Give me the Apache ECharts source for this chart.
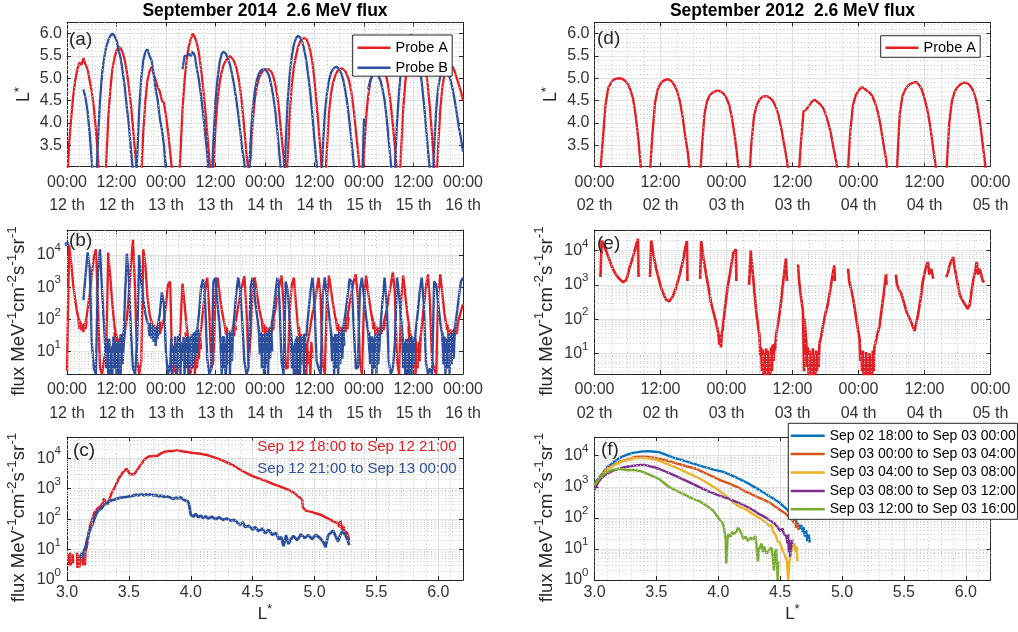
<!DOCTYPE html>
<html>
<head>
<meta charset="utf-8">
<title>2.6 MeV flux</title>
<script src="https://cdn.jsdelivr.net/npm/echarts@6.0.0/dist/echarts.min.js"></script>
<style>
  html, body { margin: 0; padding: 0; background: #ffffff; }
  #chart { width: 1018px; height: 632px; }
</style>
</head>
<body>
<div id="chart"></div>
<script>
// ---------------- data ----------------
// Hourly series are sampled every half hour from the first day's 00:00.
const HOUR_STEP = 0.5;
// Noise windows are sampled every quarter hour from their own start.
const NOISE_STEP = 0.25;

// September 2014 (12th 00:00 to 16th 00:00): L* of Probe A and Probe B
const lstarA2014 = [
  2.6, 3.5, 4.1, 4.6, 4.95, 5.2, 5.35, 5.3, 5.45, 5.3, 5.2, 4.95, 4.7, 4.35, 3.85, 3.25, 2.5,
  2.2, 2.4, 3.1, 4.1, 4.75, 5.2, 5.45, 5.62, 5.7, 5.68, 5.58, 5.4, 5.15, 4.8, 4.4, 3.9, 3.35, 2.9, 2.2,
  2.8, 3.8, 4.5, 4.95, 5.15, 5.25, 5.1, 4.95, 4.8, 4.7, 4.5, 4.45, 4.15, 3.8, 3.35, 2.9, 2.2, 2.0, 2.5,
  3.3, 4.3, 4.95, 5.4, 5.7, 5.88, 6.0, 5.92, 5.78, 5.55, 5.2, 4.8, 4.3, 3.75, 3.2, 2.6,
  3.0, 3.9, 4.5, 4.9, 5.15, 5.3, 5.4, 5.45, 5.5, 5.45, 5.38, 5.25, 5.05, 4.75, 4.35, 3.85, 3.3, 2.9,
  3.2, 4.0, 4.5, 4.8, 5.0, 5.1, 5.17, 5.2, 5.2, 5.2, 5.15, 5.05, 4.85, 4.6, 4.2, 3.7, 3.25, 2.6,
  3.2, 4.2, 4.85, 5.25, 5.5, 5.7, 5.82, 5.88, 5.9, 5.88, 5.78, 5.6, 5.35, 4.95, 4.45, 3.9, 3.3, 2.6, 2.5,
  3.4, 4.2, 4.65, 4.9, 5.05, 5.15, 5.2, 5.22, 5.2, 5.15, 5.05, 4.9, 4.65, 4.3, 3.85, 3.4, 2.9, 2.3,
  3.3, 4.1, 4.6, 4.9, 5.1, 5.2, 5.28, 5.3, 5.3, 5.25, 5.15, 5.0, 4.75, 4.4, 3.95, 3.45, 2.9, 2.3,
  3.4, 4.3, 4.9, 5.3, 5.55, 5.72, 5.83, 5.88, 5.9, 5.85, 5.72, 5.5, 5.2, 4.8, 4.3, 3.7, 3.1, 2.5,
  3.5, 4.3, 4.8, 5.1, 5.25, 5.3, 5.3, 5.25, 5.15, 5.0, 4.85, 4.7, 4.5
];
const lstarB2014 = [
  null, null, null, null, null, null, null, null,
  4.75, 4.55, 4.25, 3.75, 3.15, 2.5,
  2.4, 3.6, 4.5, 5.1, 5.45, 5.7, 5.85, 5.95, 6.0, 5.95, 5.85, 5.65, 5.45, 5.15, 4.8, 4.35, 3.95, 3.4, 2.9, 2.3,
  3.2, 4.3, 5.0, 5.4, 5.6, 5.65, 5.5, 5.4, 5.1, 4.75, 4.5, 4.1, 3.85, 3.5, 2.9, 2.3,
  null, null, null, null, null, null,
  5.2, 5.5, 5.5, 5.55, 5.5, 5.6, 5.5, 5.2, 4.95, 4.6, 4.2, 3.75, 3.3, 2.6,
  2.6, 3.6, 4.5, 5.0, 5.35, 5.55, 5.6, 5.55, 5.45, 5.3, 5.1, 4.85, 4.55, 4.2, 3.8, 3.4, 3.1, 2.4,
  2.6, 3.6, 4.3, 4.7, 4.95, 5.1, 5.18, 5.2, 5.2, 5.15, 5.05, 4.85, 4.6, 4.25, 3.8, 3.3, 2.8, 2.2,
  3.5, 4.5, 5.1, 5.5, 5.75, 5.9, 5.95, 5.92, 5.82, 5.65, 5.4, 5.05, 4.65, 4.15, 3.6, 3.1, 2.5,
  2.3, 3.4, 4.2, 4.65, 4.95, 5.12, 5.2, 5.25, 5.25, 5.2, 5.1, 4.95, 4.7, 4.4, 4.0, 3.55, 3.1, 2.5,
  2.2, 2.3, 2.5, 4.1, null, 4.75, 4.95, 5.05, 5.1, 5.1, 5.05, 4.95, 4.75, 4.5, 4.1, 3.6, 3.1, 2.5,
  3.0, 4.0, 4.7, 5.2, 5.5, 5.75, 5.88, 5.95, 5.97, 5.9, 5.75, 5.55, 5.25, 4.9, 4.45, 3.95, 3.4, 2.9, 2.3,
  3.4, 4.3, 4.8, 5.05, 5.2, 5.25, 5.2, 5.1, 4.95, 4.75, 4.5, 4.2, 3.9, 3.65, 3.35
];

// September 2014: 2.6 MeV flux of Probe A and Probe B
const fluxA2014 = [
  2.5, 20000, 6000, 1200, 400, 150, 90, 70, 60, 75, 200, 600, 2500, 8000, 15000, 300, 3,
  2, 6, 10, 12000, 2000, 300, 60, 30, 15, 25, 12, 40, 100, 600, 5000, 30000, 800, 5, 2,
  5, 15000, 5000, 500, 150, 80, 60, 40, 50, 35, 60, 100, 300, 1200, 1500, 5, 3, 2, 3,
  60, 1300, 300, 60, 20, 8, 3, 12, 4, 20, 50, 200, 900, 2000, 150, 3,
  5, 800, 2000, 600, 200, 90, 50, 35, 30, 40, 60, 100, 250, 600, 1200, 2200, 200, 4,
  30, 800, 2000, 700, 250, 120, 70, 50, 45, 50, 60, 100, 200, 500, 1200, 2300, 300, 3,
  3, 200, 1200, 2000, 300, 60, 15, 20, 3, 12, 25, 60, 150, 300, 800, 2000, 400, 4, 2,
  400, 2300, 800, 300, 120, 70, 50, 45, 50, 70, 120, 300, 700, 1500, 2500, 500, 5, 2,
  300, 2300, 700, 250, 100, 60, 45, 40, 45, 60, 100, 200, 500, 1200, 3000, 600, 5, 2,
  400, 2300, 600, 150, 50, 20, 8, 25, 4, 15, 60, 250, 1000, 2500, 300, 5, 3, 2,
  600, 2500, 600, 150, 60, 40, 35, 40, 50, 70, 100, 180, 300
];
const fluxB2014 = [
  null, null, null, null, null, null, null, null,
  400, 2500, 12000, 4000, 20, 3,
  2, 3000, 15000, 800, 60, 4, 25, 2, 15, 3, 20, 2, 30, 5, 300, 11000, 2000, 40, 3, 2,
  20, 10000, 1500, 400, 150, 80, 60, 40, 50, 30, 60, 150, 700, 300, 8, 2,
  4, 2, 10, 3, 30, 5,
  20, 3, 25, 2, 30, 4, 20, 40, 150, 1000, 1800, 300, 6, 2,
  3, 1500, 2000, 300, 60, 5, 30, 2, 40, 4, 35, 100, 600, 2000, 800, 80, 5, 2,
  3, 1000, 2000, 500, 150, 50, 8, 35, 3, 40, 6, 50, 150, 600, 2000, 400, 5, 2,
  1500, 800, 100, 20, 3, 25, 2, 30, 4, 35, 30, 150, 700, 2000, 300, 5, 3,
  2, 600, 2000, 500, 150, 40, 5, 35, 3, 40, 8, 60, 150, 500, 1800, 1500, 60, 3,
  3, 800, 2000, 500, 120, 40, 5, 30, 3, 35, 5, 60, 400, 2000, 300, 5, 2, 3,
  20, 2000, 600, 100, 20, 3, 25, 2, 30, 4, 40, 150, 700, 2000, 300, 5, 2, 3, 2,
  1500, 1200, 300, 80, 30, 4, 25, 3, 35, 6, 50, 150, 500, 1500, 2000
];
const fluxB2014First = [[0, 22000]];

// Count-noise scatter in the low-flux stretches, quarter-hour samples
const fluxA2014Noise = [
  { from: 2.75, values: [100, 50, 80, 45, 70, 40, 75, 50, 90] },
  { from: 11.5, values: [40, 12, 30, 8, 25, 10, 35, 6, 20, 15, 45] },
  { from: 20.5, values: [90, 40, 70, 30, 55, 35, 70, 40, 80, 50, 90] },
  { from: 28.75, values: [40, 10, 25, 4, 15, 2, 10, 3, 20, 2, 8, 3, 15, 6, 30, 12] },
  { from: 38.25, values: [70, 35, 55, 25, 45, 20, 40, 25, 50, 30, 70, 45] },
  { from: 47.25, values: [90, 40, 70, 30, 60, 25, 50, 30, 55, 35, 70, 45, 100] },
  { from: 56.25, values: [60, 20, 35, 8, 20, 3, 12, 2, 15, 4, 10, 2, 20, 6] },
  { from: 65.25, values: [100, 45, 70, 35, 60, 30, 55, 30, 60, 40, 80, 50, 120] },
  { from: 74.0, values: [120, 50, 80, 35, 60, 30, 55, 28, 50, 35, 70, 45, 100, 60] },
  { from: 82.75, values: [60, 20, 35, 6, 20, 3, 15, 2, 12, 3, 20, 5, 30] },
  { from: 92.25, values: [70, 30, 50, 25, 45, 22, 50, 30, 60, 35, 80] }
];
const fluxB2014Noise = [
  { from: 9.25, values: [30, 3, 20, 2, 25, 4, 12, 2, 30, 3, 18, 2, 22, 5, 15, 2, 35, 4, 40] },
  { from: 19.75, values: [60, 30, 80, 25, 70, 20, 50, 15, 60, 25, 80] },
  { from: 25.0, values: [3, 25, 2, 15, 4, 30, 2, 20, 3, 35, 2, 18, 5, 28, 2, 22, 3, 30, 2, 25, 4, 35, 3, 40, 6, 45, 8, 50] },
  { from: 37.25, values: [15, 2, 30, 3, 20, 2, 35, 4, 25, 2, 40, 5, 45] },
  { from: 46.5, values: [60, 8, 40, 3, 30, 2, 35, 4, 25, 2, 45, 6, 60, 10] },
  { from: 54.25, values: [25, 3, 15, 2, 20, 2, 30, 3, 20, 2, 25, 4, 30, 2, 35] },
  { from: 64.0, values: [45, 5, 30, 2, 25, 3, 35, 2, 30, 4, 40, 6, 50, 15] },
  { from: 73.25, values: [40, 4, 30, 2, 25, 3, 35, 2, 30, 4, 40] },
  { from: 81.25, values: [30, 3, 20, 2, 25, 2, 18, 3, 30, 2, 22, 4, 28] },
  { from: 91.0, values: [40, 4, 30, 2, 25, 3, 35, 2, 30, 4, 40, 6, 50] }
];

// Flux against L*, Sep 12 (Probe A outbound, Probe B inbound)
const profileSep12A = [
  [3.01, 7], [3.015, 3], [3.025, 8], [3.03, 3], [3.045, 7], [3.05, 3.5], [3.06, null],
  [3.08, 8], [3.085, 2.5], [3.095, 7], [3.1, 2.6], [3.11, 6], [3.115, null],
  [3.125, 7], [3.13, 3], [3.14, 8], [3.145, 3], [3.15, 9], [3.16, 12], [3.175, 35], [3.185, 55],
  [3.2, 90], [3.22, 160], [3.245, 220], [3.27, 260], [3.29, 350], [3.3, 480], [3.31, 380],
  [3.325, 300], [3.34, 420], [3.36, 700], [3.39, 1200], [3.42, 2200], [3.45, 3400], [3.48, 4500],
  [3.49, 4200], [3.51, 3000], [3.525, 2700], [3.545, 3000], [3.57, 4300], [3.6, 6500], [3.63, 9500],
  [3.66, 11500], [3.7, 11800], [3.73, 12000], [3.76, 14500], [3.79, 16500], [3.83, 17500],
  [3.86, 17500], [3.89, 18500], [3.93, 17000], [3.97, 16000], [4.02, 15000], [4.08, 14000],
  [4.14, 12500], [4.19, 10700], [4.24, 9000], [4.29, 7400], [4.35, 5700], [4.4, 4200], [4.46, 3100],
  [4.51, 2500], [4.56, 2100], [4.62, 1700], [4.67, 1400], [4.72, 1200], [4.78, 950], [4.83, 760],
  [4.87, 550], [4.9, 450], [4.905, 250], [4.915, 230], [4.93, 190], [4.96, 180], [5.0, 160],
  [5.05, 140], [5.09, 115], [5.13, 95], [5.16, 80], [5.19, 75], [5.2, 55], [5.21, 90], [5.22, 45],
  [5.235, 60], [5.245, 30], [5.26, 40], [5.275, 25], [5.28, 20]
];
const profileSep12B = [
  [3.11, 5], [3.12, 8], [3.13, 6], [3.14, 10], [3.15, 12], [3.16, 20], [3.17, 26], [3.18, 40],
  [3.2, 57], [3.22, 100], [3.24, 160], [3.26, 200], [3.28, 230], [3.3, 290], [3.32, 340], [3.35, 400],
  [3.38, 440], [3.41, 480], [3.44, 510], [3.47, 530], [3.5, 560], [3.53, 580], [3.56, 640], [3.58, 600],
  [3.6, 680], [3.62, 600], [3.64, 650], [3.66, 620], [3.68, 660], [3.7, 600], [3.72, 620], [3.74, 560],
  [3.76, 590], [3.78, 540], [3.8, 570], [3.83, 520], [3.86, 460], [3.88, 510], [3.9, 470], [3.92, 520],
  [3.94, 440], [3.96, 400], [3.98, 380], [3.99, 250], [4.0, 140], [4.02, 120], [4.04, 150], [4.06, 115],
  [4.08, 130], [4.1, 110], [4.12, 125], [4.14, 105], [4.17, 120], [4.2, 100], [4.23, 115], [4.26, 95],
  [4.29, 105], [4.32, 90], [4.35, 95], [4.38, 75], [4.4, 65], [4.42, 80], [4.44, 55], [4.47, 60],
  [4.5, 45], [4.52, 55], [4.55, 40], [4.58, 50], [4.6, 34], [4.63, 45], [4.66, 30], [4.69, 35],
  [4.71, 22], [4.73, 26], [4.75, 13], [4.77, 30], [4.79, 15], [4.81, 22], [4.83, 28], [4.86, 20],
  [4.89, 32], [4.92, 24], [4.95, 30], [4.98, 22], [5.01, 30], [5.04, 25], [5.07, 18], [5.09, 12],
  [5.11, 30], [5.13, 35], [5.15, 42], [5.17, 28], [5.19, 18], [5.21, 32], [5.23, 40], [5.25, 30],
  [5.27, 20], [5.28, 14]
];

// September 2012 (2nd 00:00 to 5th 00:00): L* of Probe A, every half hour
const lstarA2012 = [
  2.0, 2.3, 2.8, 3.6, 4.4, 4.78, 4.9, 4.97, 4.99, 5.0, 4.99, 4.95, 4.88, 4.75, 4.55, 4.15, 3.6, 2.9, 2.2, 2.3,
  2.7, 3.7, 4.45, 4.75, 4.88, 4.94, 4.97, 4.97, 4.93, 4.85, 4.72, 4.5, 4.15, 3.7, 3.3, 2.7, 2.2, 2.1, 2.4,
  3.4, 4.2, 4.5, 4.62, 4.68, 4.71, 4.72, 4.7, 4.65, 4.55, 4.4, 4.1, 3.7, 3.2, 2.6, 2.1, 2.0, 2.5,
  3.5, 4.15, 4.4, 4.52, 4.58, 4.6, 4.59, 4.55, 4.48, 4.35, 4.15, 3.85, 3.5, 3.15, 2.6, 2.1, 2.1, 2.6,
  3.5, 4.25, 4.3, 4.38, 4.47, 4.52, 4.47, 4.42, 4.35, 4.2, 4.0, 3.75, 3.4, 3.1, 2.5, 2.1, 2.2, 2.8,
  3.8, 4.4, 4.62, 4.72, 4.8, 4.78, 4.72, 4.68, 4.6, 4.45, 4.25, 3.95, 3.55, 3.2, 2.6, 2.1, 2.3,
  3.0, 4.2, 4.6, 4.75, 4.83, 4.88, 4.9, 4.92, 4.85, 4.75, 4.55, 4.3, 3.95, 3.5, 3.05, 2.5, 2.1, 2.3,
  2.9, 4.0, 4.5, 4.7, 4.8, 4.86, 4.9, 4.9, 4.87, 4.8, 4.68, 4.45, 4.1, 3.6, 3.1, 2.5, 2.1
];

// September 2012: 2.6 MeV flux of Probe A as [hour, flux]; null marks a data gap
const fluxA2012 = [
  [1.1, 1700], [1.3, 20000], [1.6, 15000], [2.1, 10000], [2.7, 5500], [3.3, 3000], [3.9, 2000],
  [4.5, 1500], [5.2, 1200], [5.8, 1400], [6.4, 3300], [7.0, 6500], [7.3, 10000], [7.6, 15000],
  [7.9, 22000], [8.0, 1700], [8.2, null],
  [10.1, 1700], [10.3, 20000], [10.7, 8000], [11.2, 3000], [12.1, 830], [13.0, 370], [13.6, 330],
  [14.2, 450], [14.8, 800], [15.5, 2000], [16.1, 5200], [16.5, 12000], [16.8, 19000], [16.9, 1300],
  [17.1, null],
  [19.2, 1500], [19.4, 19000], [19.8, 6000], [20.3, 2000], [21.2, 300], [22.1, 80], [22.5, 40],
  [22.7, 18], [22.85, 35], [23.0, 15], [23.15, 40], [23.3, 50], [23.7, 200], [24.2, 830], [24.7, 2500],
  [25.2, 8300], [25.7, 11000], [25.8, 1300], [26.0, null],
  [28.1, 1000], [28.4, 10000], [28.8, 2000], [29.4, 170], [29.7, 70], [30.0, 33], [30.15, 8],
  [30.3, 15], [30.45, 3], [30.6, 13], [30.75, 2.5], [30.9, 10], [31.05, 2], [31.2, 14], [31.35, 3],
  [31.5, 12], [31.65, 2], [31.8, 9], [31.95, 2.5], [32.1, 15], [32.25, 3], [32.4, 18], [32.55, 6],
  [32.7, 20], [32.85, 12], [33.0, 33], [33.5, 100], [33.9, 300], [34.3, 1200], [34.8, 5900],
  [35.0, 1300], [35.2, null],
  [37.0, 4000], [37.2, 1300], [37.5, 500], [37.9, 170], [38.1, 3], [38.2, 100], [38.5, 21],
  [38.65, 4], [38.8, 15], [38.95, 2], [39.1, 12], [39.25, 2], [39.4, 10], [39.55, 3], [39.7, 14],
  [39.85, 2], [40.0, 9], [40.15, 2], [40.3, 12], [40.45, 3], [40.6, 10], [40.75, 4], [40.9, 20],
  [41.2, 30], [41.5, 60], [42.0, 150], [42.4, 260], [43.0, 1000], [43.3, 2000], [43.6, 3700],
  [43.7, 1300], [43.8, null],
  [46.1, 3000], [46.3, 1300], [47.0, 420], [47.6, 100], [48.2, 26], [48.35, 6], [48.5, 12],
  [48.65, 3], [48.8, 12], [48.95, 2], [49.1, 9], [49.25, 2], [49.4, 11], [49.55, 2], [49.7, 8],
  [49.85, 2], [50.0, 10], [50.15, 2.5], [50.3, 9], [50.45, 2], [50.6, 12], [50.75, 3], [50.9, 15],
  [51.2, 25], [51.5, 40], [51.8, 60], [52.4, 330], [52.8, 1000], [53.0, 2100], [53.1, 1000],
  [53.2, null],
  [54.8, 2000], [55.0, 1000], [55.4, 700], [55.8, 550], [56.7, 170], [57.6, 80], [58.2, 45],
  [58.5, 40], [58.8, 130], [59.3, 400], [59.7, 1300], [60.2, 3000], [60.6, 4700], [60.9, 2000],
  [61.2, 3000], [61.5, 2800], [61.6, 1500], [61.8, null],
  [63.9, 1700], [64.2, 2000], [64.6, 4000], [65.0, 5500], [65.2, 6500], [65.5, 3000], [65.8, 1700],
  [66.4, 520], [67.0, 330], [67.5, 250], [67.8, 200], [68.2, 250], [68.8, 1170], [69.2, 2500],
  [69.5, 4700], [69.7, 2000], [70.0, 3000], [70.3, 3200], [70.6, 1300], [70.9, 1200]
];

// Flux against L*, Sep 2 to Sep 3 2012, one profile per time window
const profileNames = [
  'Sep 02 18:00 to Sep 03 00:00',
  'Sep 03 00:00 to Sep 03 04:00',
  'Sep 03 04:00 to Sep 03 08:00',
  'Sep 03 08:00 to Sep 03 12:00',
  'Sep 03 12:00 to Sep 03 16:00'
];
const profileSep02h18 = [
  [3.0, 1300], [3.03, 1800], [3.05, 2300], [3.08, 3200], [3.1, 4200], [3.15, 6000], [3.19, 7900],
  [3.23, 9500], [3.27, 11000], [3.31, 12300], [3.35, 13000], [3.39, 13800], [3.43, 14000],
  [3.47, 13700], [3.52, 13000], [3.57, 11000], [3.63, 8900], [3.7, 7400], [3.76, 6200], [3.83, 5100],
  [3.9, 4200], [3.97, 3500], [4.04, 3000], [4.1, 2400], [4.17, 1800], [4.24, 1300], [4.31, 890],
  [4.37, 640], [4.42, 480], [4.46, 380], [4.5, 300], [4.53, 230], [4.56, 180], [4.59, 130],
  [4.62, 90], [4.64, 70], [4.66, 45], [4.67, 60], [4.68, 35], [4.69, 50], [4.7, 25], [4.71, 40],
  [4.72, 18], [4.73, 30], [4.74, 16]
];
const profileSep03h00 = [
  [3.0, 1200], [3.05, 2200], [3.1, 3800], [3.16, 5200], [3.21, 6500], [3.27, 7800], [3.32, 8900],
  [3.38, 9300], [3.43, 9200], [3.49, 8500], [3.54, 7800], [3.61, 6600], [3.68, 5400], [3.75, 4500],
  [3.82, 3800], [3.89, 2800], [3.96, 2100], [4.02, 1600], [4.09, 1260], [4.15, 1000], [4.2, 770],
  [4.26, 600], [4.31, 480], [4.37, 380], [4.42, 300], [4.46, 230], [4.5, 180], [4.54, 140],
  [4.57, 110], [4.59, 100], [4.61, 70], [4.62, 90], [4.63, 48], [4.64, 60], [4.65, 40]
];
const profileSep03h04 = [
  [3.0, 1100], [3.05, 2000], [3.1, 3500], [3.16, 5000], [3.21, 6200], [3.27, 7300], [3.32, 8300],
  [3.38, 8500], [3.43, 8300], [3.49, 7500], [3.54, 6500], [3.61, 5000], [3.68, 3800], [3.75, 2800],
  [3.82, 2100], [3.89, 1500], [3.96, 1000], [4.02, 700], [4.07, 480], [4.11, 350], [4.15, 260],
  [4.19, 210], [4.23, 180], [4.27, 140], [4.31, 110], [4.35, 90], [4.39, 69], [4.41, 55], [4.43, 60],
  [4.44, 38], [4.46, 30], [4.48, 18], [4.5, 15], [4.52, 9], [4.54, 6], [4.555, 4], [4.565, 1],
  [4.575, 4], [4.585, 8], [4.6, 11], [4.615, 15], [4.625, 8], [4.635, 12], [4.64, 4]
];
const profileSep03h08 = [
  [3.0, 800], [3.03, 1400], [3.06, 2000], [3.1, 2600], [3.15, 3300], [3.21, 4000], [3.27, 4500],
  [3.32, 4800], [3.37, 5000], [3.41, 5000], [3.46, 4500], [3.52, 3800], [3.58, 3000], [3.65, 2300],
  [3.72, 1700], [3.79, 1260], [3.86, 920], [3.93, 690], [4.0, 540], [4.07, 430], [4.12, 360],
  [4.17, 300], [4.22, 240], [4.28, 180], [4.32, 140], [4.37, 110], [4.41, 85], [4.45, 69], [4.48, 50],
  [4.5, 38], [4.52, 45], [4.53, 30], [4.55, 26], [4.56, 15], [4.565, 30], [4.57, 8], [4.575, 20],
  [4.58, 5.5], [4.59, 12], [4.6, 20]
];
const profileSep03h12 = [
  [3.0, 1100], [3.05, 2100], [3.1, 3000], [3.15, 3500], [3.19, 3800], [3.23, 3600], [3.27, 3400],
  [3.31, 3500], [3.35, 3300], [3.39, 3000], [3.43, 2600], [3.47, 2200], [3.52, 1800], [3.56, 1350],
  [3.6, 1000], [3.64, 820], [3.68, 690], [3.72, 580], [3.76, 480], [3.8, 400], [3.85, 340],
  [3.89, 270], [3.93, 210], [3.96, 170], [3.98, 130], [4.01, 90], [4.04, 62], [4.05, 40], [4.06, 20],
  [4.065, 3.4], [4.075, 20], [4.08, 30], [4.1, 25], [4.11, 35], [4.13, 30], [4.15, 38], [4.16, 50],
  [4.17, 45], [4.19, 30], [4.2, 21], [4.22, 25], [4.24, 18], [4.26, 23], [4.28, 20], [4.3, 26],
  [4.31, 12], [4.32, 4], [4.33, 10], [4.35, 15], [4.36, 8], [4.37, 12], [4.39, 7], [4.41, 9],
  [4.43, 11], [4.44, 6], [4.45, 2], [4.46, 8], [4.47, 10], [4.48, 1], [4.485, 4]
];

// ---------------- styling ----------------
const FONT = '"Liberation Sans", Arial, Helvetica, sans-serif';
const RED = '#e31f26';
const BLUE = '#2c4f9e';
const PROFILE_COLORS = ['#0072bd', '#d95319', '#edb120', '#7e2f8e', '#77ac30'];
const AXIS = '#262626';
const LABEL = '#333333';
const MAJOR_GRID = '#e2e2e2';
const MINOR_GRID = '#c8c8c8';

const GRIDS = [
  { left: 67, top: 22.5, width: 396, height: 144 },   // (a)
  { left: 67, top: 230, width: 396, height: 144 },    // (b)
  { left: 67, top: 437, width: 396, height: 143 },    // (c)
  { left: 594.5, top: 22.5, width: 396, height: 144 },// (d)
  { left: 594.5, top: 230, width: 396, height: 144 }, // (e)
  { left: 594.5, top: 437, width: 396, height: 143 }  // (f)
];

const onHourGrid = values => values.map((v, i) => [i * HOUR_STEP, v]);
// Each noise window becomes its own line piece, broken from the next one
const fromWindows = windows => windows.reduce((out, w) => {
  w.values.forEach((v, i) => out.push([w.from + i * NOISE_STEP, v]));
  out.push([w.from + (w.values.length - 1) * NOISE_STEP + 0.05, null]);
  return out;
}, []);

const supRich = {
  sup: { fontSize: 11.5, lineHeight: 12, verticalAlign: 'top', fontFamily: FONT, color: LABEL }
};
const nameRich = {
  sup: { fontSize: 13.5, lineHeight: 13, verticalAlign: 'top', fontFamily: FONT, color: AXIS }
};
const FLUX_NAME = 'flux MeV{sup|-1}cm{sup|-2}s{sup|-1}sr{sup|-1}';
const LSTAR_NAME = 'L{sup|*}';

function pad2(n) { return (n < 10 ? '0' : '') + n; }

function baseAxis(extra) {
  return Object.assign({
    axisLine: { show: true, onZero: false, lineStyle: { color: AXIS, width: 1 } },
    axisTick: { show: true, inside: true, length: 4, lineStyle: { color: AXIS, width: 1 } },
    splitLine: { show: true, lineStyle: { color: MAJOR_GRID, width: 1 } },
    minorTick: { show: false },
    minorSplitLine: { show: false },
    silent: true
  }, extra);
}

function mirrorOf(axis, position) {
  const m = Object.assign({}, axis);
  m.position = position;
  m.axisLabel = { show: false };
  m.splitLine = { show: false };
  m.name = '';
  return m;
}

function timeAxis(gridIndex, maxHours, firstDay) {
  return baseAxis({
    type: 'value', gridIndex, min: 0, max: maxHours, interval: 12,
    axisLabel: {
      show: true, margin: 4, color: LABEL, fontFamily: FONT, fontSize: 16, lineHeight: 23.5,
      showMinLabel: true, showMaxLabel: true,
      formatter: v => {
        const day = firstDay + Math.floor(v / 24 + 1e-6);
        const hh = Math.round(v) % 24 === 0 ? '00:00' : '12:00';
        return hh + '\n' + pad2(day) + ' th';
      }
    }
  });
}

function lstarXAxis(gridIndex) {
  return baseAxis({
    type: 'value', gridIndex, min: 3, max: 6.2, interval: 0.5,
    name: LSTAR_NAME, nameLocation: 'middle', nameGap: 20,
    nameTextStyle: { fontFamily: FONT, fontSize: 17, color: AXIS, lineHeight: 24, rich: nameRich },
    axisLabel: {
      show: true, margin: 5, color: LABEL, fontFamily: FONT, fontSize: 16,
      showMaxLabel: false, formatter: v => v.toFixed(1)
    }
  });
}

function lstarYAxis(gridIndex) {
  return baseAxis({
    type: 'value', gridIndex, min: 3.02, max: 6.25, splitNumber: 6,
    name: LSTAR_NAME, nameLocation: 'middle', nameGap: 25,
    nameTextStyle: { fontFamily: FONT, fontSize: 17.5, color: AXIS, lineHeight: 24, rich: nameRich },
    axisLabel: {
      show: true, margin: 5, color: LABEL, fontFamily: FONT, fontSize: 16,
      showMinLabel: false, showMaxLabel: false, formatter: v => v.toFixed(1)
    }
  });
}

function fluxYAxis(gridIndex, min, max) {
  return baseAxis({
    type: 'log', logBase: 10, gridIndex, min, max, splitNumber: 4,
    name: FLUX_NAME, nameLocation: 'middle', nameGap: 29,
    nameTextStyle: {
      fontFamily: FONT, fontSize: 18.5, color: AXIS, lineHeight: 28, rich: nameRich,
      padding: [0, 18, 0, 0]
    },
    axisLabel: {
      show: true, margin: 6, color: LABEL, fontFamily: FONT, fontSize: 16, lineHeight: 26,
      showMinLabel: min === 1, showMaxLabel: false, rich: supRich,
      formatter: v => '10{sup|' + Math.round(Math.log10(v)) + '}'
    }
  });
}

// Dotted minor grid positions for each panel
function linearMinor(from, to, step, majorEvery) {
  const out = [];
  const n0 = Math.ceil(from / step - 1e-6), n1 = Math.floor(to / step + 1e-6);
  for (let n = n0; n <= n1; n++) {
    if (n % majorEvery === 0) continue;
    const v = +(n * step).toFixed(6);
    if (v > from + 1e-6 && v < to - 1e-6) out.push(v);
  }
  return out;
}
function logMinor(min, max) {
  const out = [];
  for (let e = Math.floor(Math.log10(min)); e <= Math.ceil(Math.log10(max)); e++) {
    for (let k = 2; k <= 9; k++) {
      const v = k * Math.pow(10, e);
      if (v > min && v < max) out.push(v);
    }
  }
  return out;
}

const X_AXES = [
  timeAxis(0, 96, 12), timeAxis(1, 96, 12), lstarXAxis(2),
  timeAxis(3, 72, 2), timeAxis(4, 72, 2), lstarXAxis(5)
];
const Y_AXES = [
  lstarYAxis(0), fluxYAxis(1, 2, 60000), fluxYAxis(2, 1, 50000),
  lstarYAxis(3), fluxYAxis(4, 2.5, 40000), fluxYAxis(5, 1, 40000)
];

const MINORS = [
  { x: linearMinor(0, 96, 3, 4), y: linearMinor(3.02, 6.25, 0.1, 5) },
  { x: linearMinor(0, 96, 3, 4), y: logMinor(2, 60000) },
  { x: linearMinor(3, 6.2, 0.1, 5), y: logMinor(1, 50000) },
  { x: linearMinor(0, 72, 3, 4), y: linearMinor(3.02, 6.25, 0.1, 5) },
  { x: linearMinor(0, 72, 3, 4), y: logMinor(2.5, 40000) },
  { x: linearMinor(3, 6.2, 0.1, 5), y: logMinor(1, 40000) }
];

const gridMinorSeries = MINORS.map((m, i) => ({
  type: 'line', name: 'minor-grid-' + i, xAxisIndex: i, yAxisIndex: i, data: [],
  silent: true, z: 1, animation: false,
  markLine: {
    silent: true, animation: false, symbol: ['none', 'none'],
    label: { show: false }, emphasis: { disabled: true },
    lineStyle: { color: MINOR_GRID, type: [1, 2.5], width: 1 },
    data: m.x.map(v => ({ xAxis: v })).concat(m.y.map(v => ({ yAxis: v })))
  }
}));

function lineSeries(name, gridIndex, data, color, width) {
  return {
    type: 'line', name, xAxisIndex: gridIndex, yAxisIndex: gridIndex, data,
    showSymbol: false, symbol: 'none', connectNulls: false, clip: true,
    lineStyle: { color, width: width || 2 }, itemStyle: { color },
    emphasis: { disabled: true }, silent: true, animation: false, z: 3
  };
}

const series = gridMinorSeries.concat([
  lineSeries('Probe A', 0, onHourGrid(lstarA2014), RED, 2.3),
  lineSeries('Probe B', 0, onHourGrid(lstarB2014), BLUE, 2.3),
  lineSeries('Probe A', 1, onHourGrid(fluxA2014), RED, 2.4),
  lineSeries('Probe A', 1, fromWindows(fluxA2014Noise), RED, 2.4),
  lineSeries('Probe B', 1, onHourGrid(fluxB2014), BLUE, 2.4),
  lineSeries('Probe B', 1, fromWindows(fluxB2014Noise), BLUE, 2.4),
  {
    type: 'scatter', name: 'Probe B', xAxisIndex: 1, yAxisIndex: 1, data: fluxB2014First,
    symbol: 'circle', symbolSize: 5, itemStyle: { color: BLUE }, silent: true, animation: false, z: 4
  },
  lineSeries('Sep 12 18:00 to Sep 12 21:00', 2, profileSep12A, RED, 2.5),
  lineSeries('Sep 12 21:00 to Sep 13 00:00', 2, profileSep12B, BLUE, 2.8),
  lineSeries('Probe A', 3, onHourGrid(lstarA2012), RED, 2.4),
  lineSeries('Probe A', 4, fluxA2012, RED, 2.7),
  lineSeries(profileNames[0], 5, profileSep02h18, PROFILE_COLORS[0], 2.4),
  lineSeries(profileNames[1], 5, profileSep03h00, PROFILE_COLORS[1], 2.4),
  lineSeries(profileNames[2], 5, profileSep03h04, PROFILE_COLORS[2], 2.4),
  lineSeries(profileNames[3], 5, profileSep03h08, PROFILE_COLORS[3], 2.4),
  lineSeries(profileNames[4], 5, profileSep03h12, PROFILE_COLORS[4], 2.4)
]);

function legendBox(extra) {
  return Object.assign({
    orient: 'vertical', icon: 'rect', itemWidth: 33, itemHeight: 2.5, itemGap: 4,
    backgroundColor: '#ffffff', borderColor: AXIS, borderWidth: 1, borderRadius: 0,
    selectedMode: false, z: 10,
    textStyle: { fontFamily: FONT, fontSize: 14.5, lineHeight: 16, color: '#000000' }
  }, extra);
}

const legends = [
  legendBox({ data: ['Probe A', 'Probe B'], left: 352.7, top: 35, padding: [4.7, 4.3, 0.5, 4.8] }),
  legendBox({ data: ['Probe A'], left: 880.7, top: 35.7, padding: [4, 4.3, 1.6, 4.8] }),
  legendBox({
    data: profileNames, left: 788.3, top: 423.3, padding: [4.4, 1.7, 2, 2.4], itemGap: 2.4, itemWidth: 34,
    textStyle: { fontFamily: FONT, fontSize: 14, lineHeight: 16, color: '#000000' }
  })
];

function txt(x, y, text, opts) {
  return {
    type: 'text', x, y, silent: true, z: 100,
    style: Object.assign({
      text, fill: '#000000', fontFamily: FONT, fontSize: 19,
      align: 'left', verticalAlign: 'middle'
    }, opts || {})
  };
}

const graphics = [
  txt(265, 11, 'September 2014  2.6 MeV flux', { fontSize: 17.5, fontWeight: 'bold', align: 'center' }),
  txt(792.5, 11, 'September 2012  2.6 MeV flux', { fontSize: 17.5, fontWeight: 'bold', align: 'center' }),
  txt(69, 40, '(a)', { fill: AXIS }),
  txt(69, 241, '(b)', { fill: AXIS }),
  txt(73, 451, '(c)', { fill: AXIS }),
  txt(597, 39, '(d)', { fill: AXIS }),
  txt(597, 244, '(e)', { fill: AXIS }),
  txt(601, 450, '(f)', { fill: AXIS }),
  txt(456.5, 447, 'Sep 12 18:00 to Sep 12 21:00', { fill: RED, fontSize: 15, align: 'right' }),
  txt(456.7, 469, 'Sep 12 21:00 to Sep 13 00:00', { fill: BLUE, fontSize: 15, align: 'right' })
];

const option = {
  backgroundColor: '#ffffff',
  animation: false,
  grid: GRIDS.map(g => Object.assign({ containLabel: false, outerBoundsMode: 'none', show: false }, g)),
  xAxis: X_AXES.concat(X_AXES.map(a => mirrorOf(a, 'top'))),
  yAxis: Y_AXES.concat(Y_AXES.map(a => mirrorOf(a, 'right'))),
  legend: legends,
  graphic: { elements: graphics },
  series
};

const chart = echarts.init(document.getElementById('chart'), null, { renderer: 'canvas' });
chart.setOption(option);
</script>
</body>
</html>
